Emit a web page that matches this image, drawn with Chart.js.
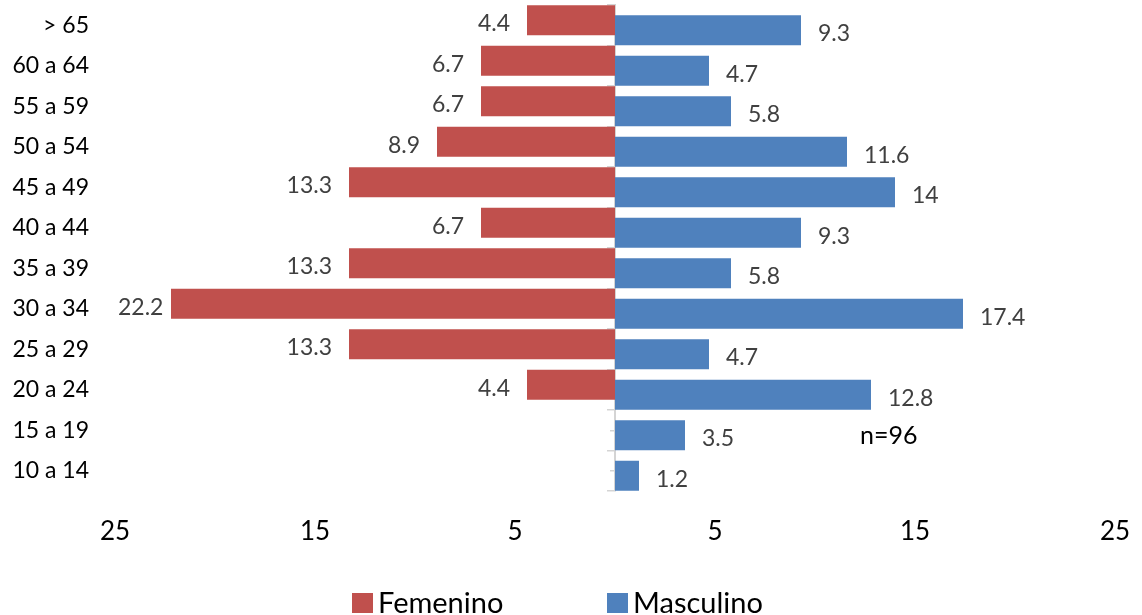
<!DOCTYPE html>
<html>
<head>
<meta charset="utf-8">
<script src="https://cdn.jsdelivr.net/npm/chart.js@4.4.1/dist/chart.umd.min.js"></script>
<style>
  html, body { margin: 0; padding: 0; background: #ffffff; }
  #wrap { position: relative; width: 1142px; height: 615px; overflow: hidden; }
  #c { position: absolute; left: 0; top: 0; }
  .leg { position: absolute; font-family: Lato, sans-serif; font-size: 29px; line-height: 29px; color: #000; white-space: nowrap; }
  .sq { position: absolute; width: 21px; height: 20px; }
</style>
</head>
<body>
<div id="wrap">
  <canvas id="c" width="1142" height="615"></canvas>
  <div class="sq" style="left:352px; top:593px; background:#C0504D;"></div>
  <div class="leg" style="left:378px; top:587px;">Femenino</div>
  <div class="sq" style="left:607px; top:593px; background:#4F81BD;"></div>
  <div class="leg" style="left:633px; top:587px;">Masculino</div>
</div>
<script>
// ---- data ----
const categories = ['> 65','60 a 64','55 a 59','50 a 54','45 a 49','40 a 44','35 a 39','30 a 34','25 a 29','20 a 24','15 a 19','10 a 14'];
const femenino  = [4.4, 6.7, 6.7, 8.9, 13.3, 6.7, 13.3, 22.2, 13.3, 4.4, null, null];
const masculino = [9.3, 4.7, 5.8, 11.6, 14, 9.3, 5.8, 17.4, 4.7, 12.8, 3.5, 1.2];
const xTickValues = [-25, -15, -5, 5, 15, 25];
const sampleNote = 'n=96';

const FONT = 'Lato, sans-serif';

const labelPlugin = {
  id: 'valueLabels',
  afterDatasetsDraw(chart) {
    const ctx = chart.ctx;
    const area = chart.chartArea;
    ctx.save();
    ctx.font = '23px ' + FONT;
    ctx.fillStyle = '#404040';
    ctx.textBaseline = 'alphabetic';
    chart.data.datasets.forEach((ds, di) => {
      const meta = chart.getDatasetMeta(di);
      meta.data.forEach((el, i) => {
        const v = ds.data[i];
        if (v == null) return;
        const txt = String(Math.abs(v));
        const w = ctx.measureText(txt).width;
        const y = el.y + 2.5 + 0.36 * 23;
        if (v < 0) {
          let x = el.x - 17;
          if (x - w < area.left + 3) x = area.left + 3 + w;
          ctx.textAlign = 'right';
          ctx.fillText(txt, x, y);
        } else {
          ctx.textAlign = 'left';
          ctx.fillText(txt, el.x + 17, y);
        }
      });
    });
    // sample size note, placed in data coordinates
    const xs = chart.scales.x, ys = chart.scales.y;
    ctx.font = '25px ' + FONT;
    ctx.fillStyle = '#000000';
    ctx.textAlign = 'left';
    ctx.fillText(sampleNote, xs.getPixelForValue(12.25), ys.getPixelForValue(10) + 5 + 0.36 * 25);
    ctx.restore();
  }
};

const bandPct = 0.4938;
new Chart(document.getElementById('c'), {
  type: 'bar',
  data: {
    labels: categories,
    datasets: [
      { label: 'Femenino', data: femenino.map(v => v == null ? null : -v), backgroundColor: '#C0504D',
        categoryPercentage: bandPct, barPercentage: 3 },
      { label: 'Masculino', data: masculino, backgroundColor: '#4F81BD',
        categoryPercentage: bandPct, barPercentage: 3 }
    ]
  },
  options: {
    indexAxis: 'y',
    responsive: false,
    animation: false,
    devicePixelRatio: 1,
    layout: { padding: { left: 0, right: 27, top: 5, bottom: 0 } },
    plugins: { legend: { display: false }, tooltip: { enabled: false } },
    scales: {
      x: {
        type: 'linear', min: -25, max: 25,
        grid: { display: false, drawTicks: false },
        border: { display: false },
        afterBuildTicks(scale) { scale.ticks = xTickValues.map(v => ({ value: v })); },
        afterFit(scale) { scale.height = 124; scale.paddingLeft = 0; scale.paddingRight = 0; },
        ticks: { color: '#000', font: { family: FONT, size: 26 }, padding: 25,
                 callback: v => Math.abs(v) }
      },
      y: {
        type: 'category', position: 'left',
        grid: { display: false, drawTicks: false },
        border: { display: false },
        afterFit(scale) { scale.width = 115; scale.paddingTop = 0; scale.paddingBottom = 0; },
        ticks: { color: '#000', font: { family: FONT, size: 23 }, padding: 26 }
      },
      y2: {
        type: 'category', position: { x: 0 }, z: 1,
        ticks: { display: false },
        grid: { offset: true, drawOnChartArea: false, tickLength: 7, color: '#d4d4d4', lineWidth: 1.5 },
        border: { display: true, color: '#d4d4d4', width: 2 }
      },
      y3: {
        type: 'category', position: { x: 0 }, z: 1,
        ticks: { display: false },
        grid: { offset: false, drawOnChartArea: false, tickLength: 5, color: '#d4d4d4', lineWidth: 1.5 },
        border: { display: false }
      }
    }
  },
  plugins: [labelPlugin]
});
</script>
</body>
</html>
